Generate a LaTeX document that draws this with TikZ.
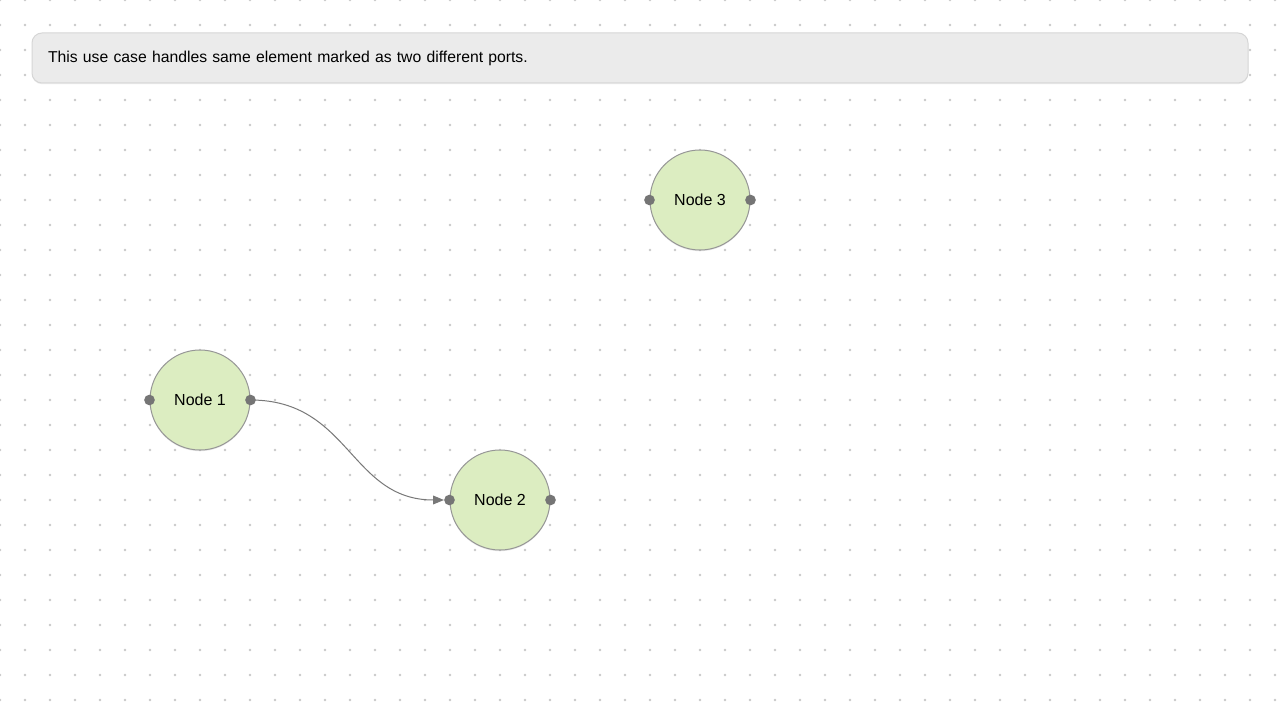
\documentclass[tikz,border=0pt]{standalone}
\usepackage{fontspec}
\setmainfont{Liberation Sans}
\usetikzlibrary{shapes}
\usetikzlibrary{shadows}
\usetikzlibrary{arrows.meta}
\pgfdeclarelayer{gridlayer}
\pgfdeclarelayer{edgelayer}
\pgfdeclarelayer{nodelayer}
\pgfsetlayers{gridlayer,edgelayer,nodelayer,main}
\tikzstyle{none}=[inner sep=0pt]
\definecolor{nodefill}{RGB}{220,237,193}
\definecolor{nodeline}{RGB}{150,150,150}
\definecolor{portfill}{RGB}{117,117,117}
\definecolor{griddot}{RGB}{200,200,200}
\definecolor{notefill}{RGB}{235,235,235}
\definecolor{noteline}{RGB}{214,214,214}
\definecolor{edgeline}{RGB}{120,120,120}
\tikzstyle{element}=[style=none, circle, draw=nodeline, line width=0.75pt, fill=nodefill, minimum size=75pt, font=\fontsize{12}{14}\selectfont, drop shadow={opacity=0.18, shadow xshift=0pt, shadow yshift=-0.9pt}]
\tikzstyle{port}=[style=none, circle, fill=portfill, minimum size=8pt]
\tikzstyle{note}=[rectangle, rounded corners=7.5pt, draw=noteline, line width=0.75pt, fill=notefill, minimum height=37.5pt, text width=888pt, inner xsep=12pt, align=left, font=\fontsize{11.8}{14}\selectfont, drop shadow={opacity=0.15, shadow xshift=0pt, shadow yshift=-0.9pt}]

\begin{document}
\begin{tikzpicture}[x=0.75pt, y=-0.75pt]
	\useasboundingbox (0,0) rectangle (1280,720);
	\begin{pgfonlayer}{gridlayer}
		\fill [white] (0,0) rectangle (1280,720);
		\foreach \x in {0,25,...,1275}
			\foreach \y in {0,25,...,700}
				\fill [griddot] (\x,\y) circle (1.3);
	\end{pgfonlayer}
	\begin{pgfonlayer}{nodelayer}
		\node [note] (0) at (640,58) {This use case handles same element marked as two different ports.};
		\node [element] (1) at (200, 400) {Node 1};
		\node [element] (2) at (500, 500) {Node 2};
		\node [element] (3) at (700, 200) {Node 3};
		\node [port] (4) at (1.west) {};
		\node [port] (5) at (1.east) {};
		\node [port] (6) at (2.west) {};
		\node [port] (7) at (2.east) {};
		\node [port] (8) at (3.west) {};
		\node [port] (9) at (3.east) {};
	\end{pgfonlayer}
	\begin{pgfonlayer}{edgelayer}
		\draw [edgeline, line width=0.75pt, -{Triangle[length=8pt, width=6.5pt]}] (5.center) .. controls (350, 400) and (350, 500) .. (6);
	\end{pgfonlayer}
\end{tikzpicture}
\end{document}
